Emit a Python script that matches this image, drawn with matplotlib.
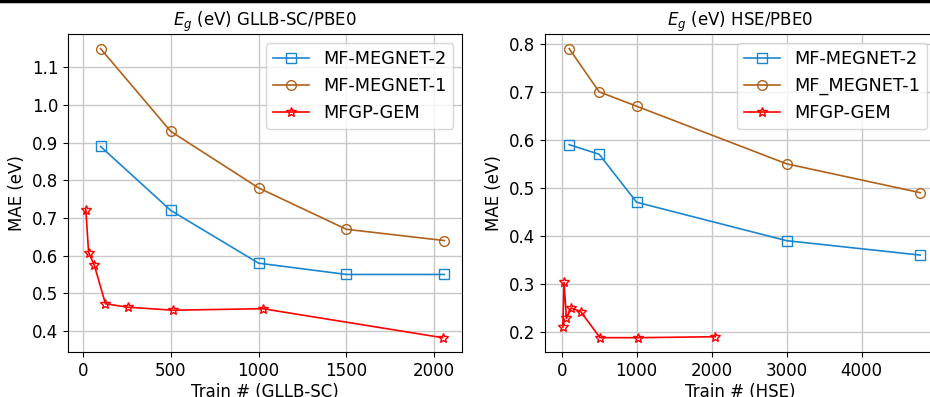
import matplotlib

matplotlib.use("Agg")
import matplotlib.pyplot as plt
from matplotlib.lines import Line2D

BLUE = "#1a86d0"
BROWN = "#b0611a"
RED = "red"

# GLLB-SC / PBE0 panel
gllb_megnet_x = [100, 500, 1000, 1500, 2058]
gllb_megnet2 = [0.89, 0.72, 0.58, 0.55, 0.55]
gllb_megnet1 = [1.15, 0.93, 0.78, 0.67, 0.64]
gllb_gem_x = [16, 32, 64, 128, 256, 512, 1024, 2048]
gllb_gem = [0.722, 0.608, 0.575, 0.472, 0.463, 0.455, 0.459, 0.382]

# HSE / PBE0 panel
hse_megnet_x = [100, 500, 1000, 3000, 4780]
hse_megnet2 = [0.59, 0.57, 0.47, 0.39, 0.36]
hse_megnet1 = [0.79, 0.70, 0.67, 0.55, 0.49]
hse_gem_x = [16, 32, 64, 128, 256, 512, 1024, 2048]
hse_gem = [0.21, 0.303, 0.228, 0.25, 0.242, 0.188, 0.188, 0.19]

plt.rcParams["font.size"] = 12

fig = plt.figure(figsize=(9.3, 3.97), dpi=100)
ax1 = fig.add_axes([0.073, 0.113, 0.424, 0.801])
# right panel runs past the figure edge, as in the cropped original
ax2 = fig.add_axes([0.586, 0.113, 0.4204, 0.801])


def draw(ax, mx, m2, m1, gx, g, names, title, xlabel):
    ax.plot(mx, m2, color=BLUE, marker="s", mfc="none", ms=7, lw=1.2, label=names[0])
    ax.plot(mx, m1, color=BROWN, marker="o", mfc="none", ms=7, lw=1.2, label=names[1])
    ax.plot(gx, g, color=RED, marker="*", mfc="none", ms=7.5, lw=1.2, label=names[2])
    ax.set_title(title, fontsize=12)
    ax.set_xlabel(xlabel, labelpad=2)
    ax.set_ylabel("MAE (eV)")
    ax.grid(True, color="#c8c8c8", lw=1)
    ax.legend(loc="upper right", fontsize=12.8)


draw(ax1, gllb_megnet_x, gllb_megnet2, gllb_megnet1, gllb_gem_x, gllb_gem,
     ["MF-MEGNET-2", "MF-MEGNET-1", "MFGP-GEM"],
     r"$E_g$ (eV) GLLB-SC/PBE0", "Train # (GLLB-SC)")
draw(ax2, hse_megnet_x, hse_megnet2, hse_megnet1, hse_gem_x, hse_gem,
     ["MF-MEGNET-2", "MF_MEGNET-1", "MFGP-GEM"],
     r"$E_g$ (eV) HSE/PBE0", "Train # (HSE)")
ax2.set_xlim(-222, 4990)

fig.add_artist(Line2D([0, 1], [0.997, 0.997], color="black", lw=2.5,
                      transform=fig.transFigure))

fig.savefig("out.png", dpi=100)
